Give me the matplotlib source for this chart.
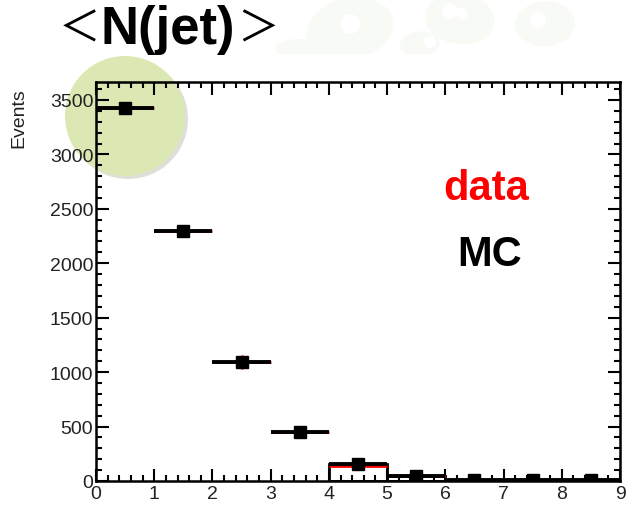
import matplotlib
matplotlib.use("Agg")
import matplotlib.pyplot as plt
from matplotlib.patches import Ellipse, Rectangle
from matplotlib.ticker import MultipleLocator
import numpy as np

plt.rcParams['font.family'] = ['Liberation Sans', 'Noto Sans CJK JP', 'DejaVu Sans']

# jet multiplicity bins and event counts
njet = [0, 1, 2, 3, 4, 5, 6, 7, 8]
mc_events = [3430, 2300, 1090, 450, 160, 50, 10, 5, 5]
mc_err = [55, 40, 25, 20, 12, 7, 3, 2, 2]
data_events = [3430, 2300, 1095, 450, 138, 50, 10, 5, 5]
data_err = [30, 25, 65, 15, 8, 5, 2, 1, 1]
boxed_bins = [4, 5]

W, H = 628, 506
fig = plt.figure(figsize=(W / 100, H / 100), dpi=100)
fig.patch.set_facecolor('white')


def fx(px):
    return px / W


def fy(py):
    return 1 - py / H


# faint watermark in the top band
band = Rectangle((0, fy(55)), 1, 1 - fy(55), transform=fig.transFigure, visible=False)
fig.add_artist(band)
for cx, cy, w, h, ang in [(350, 30, 90, 60, 30), (460, 20, 70, 50, -20),
                          (545, 25, 60, 45, 15), (300, 50, 50, 20, 0),
                          (420, 45, 40, 25, 10)]:
    e = Ellipse((fx(cx), fy(cy)), w / W, h / H, angle=ang, transform=fig.transFigure,
                facecolor='#f8faf5', edgecolor='none', zorder=-3)
    fig.add_artist(e)
    e.set_clip_path(band)
for cx, cy, r in [(350, 25, 10), (450, 12, 8), (462, 15, 6), (538, 21, 8), (430, 43, 6), (395, 8, 7)]:
    d = Ellipse((fx(cx), fy(cy)), 2 * r / W, 2 * r / H, transform=fig.transFigure,
                facecolor='white', edgecolor='none', zorder=-2)
    fig.add_artist(d)
    d.set_clip_path(band)

# highlight circle behind the first bin
fig.add_artist(Ellipse((fx(128), fy(120)), 120 / W, 120 / H, transform=fig.transFigure,
                       facecolor='#c9cbbf', edgecolor='none', alpha=0.6, zorder=-2))
fig.add_artist(Ellipse((fx(125), fy(117)), 120 / W, 120 / H, transform=fig.transFigure,
                       facecolor='#dce8b3', edgecolor='none', zorder=-1))

ax = fig.add_axes([fx(96), fy(482), fx(620) - fx(96), fy(83) - fy(482)])
ax.set_facecolor('none')

centers = np.array(njet) + 0.5

ax.bar(centers[boxed_bins], np.array(mc_events)[boxed_bins], width=1.0,
       fill=False, edgecolor='black', linewidth=2, zorder=2)
ax.errorbar(centers, data_events, xerr=0.5, yerr=data_err, fmt='none', ecolor='red',
            elinewidth=2, capsize=0, zorder=3)
ax.errorbar(centers, mc_events, xerr=0.5, yerr=mc_err, fmt='s', color='black',
            ms=8, elinewidth=2.8, capsize=0, zorder=4)

ax.set_xlim(0, 9)
ax.set_ylim(0, 3665)
ax.xaxis.set_major_locator(MultipleLocator(1))
ax.xaxis.set_minor_locator(MultipleLocator(0.2))
ax.yaxis.set_major_locator(MultipleLocator(500))
ax.yaxis.set_minor_locator(MultipleLocator(100))
ax.tick_params(which='both', direction='in', top=True, right=True, width=1.5,
               labelsize=14, labelcolor='#222222')
ax.tick_params(which='major', length=9)
ax.tick_params(which='minor', length=4.5)
ax.tick_params(axis='x', pad=3)
ax.tick_params(axis='y', pad=2)
for s in ax.spines.values():
    s.set_linewidth(1.8)

fig.text(fx(19), fy(118), 'Events', rotation=90, fontsize=14, ha='center', va='center',
         color='#222222')

ax.text(0.745, 0.735, 'data', transform=ax.transAxes, color='red', fontsize=30,
        fontweight='bold', ha='center', va='center')
ax.text(0.752, 0.57, 'MC', transform=ax.transAxes, color='black', fontsize=30,
        fontweight='bold', ha='center', va='center')

# title
fig.text(fx(79), fy(30), '＜', fontsize=30, ha='center', va='center')
fig.text(fx(168), fy(30), 'N(jet)', fontsize=38, fontweight='bold', ha='center', va='center')
fig.text(fx(258), fy(30), '＞', fontsize=30, ha='center', va='center')

fig.savefig('out.png', dpi=100)
